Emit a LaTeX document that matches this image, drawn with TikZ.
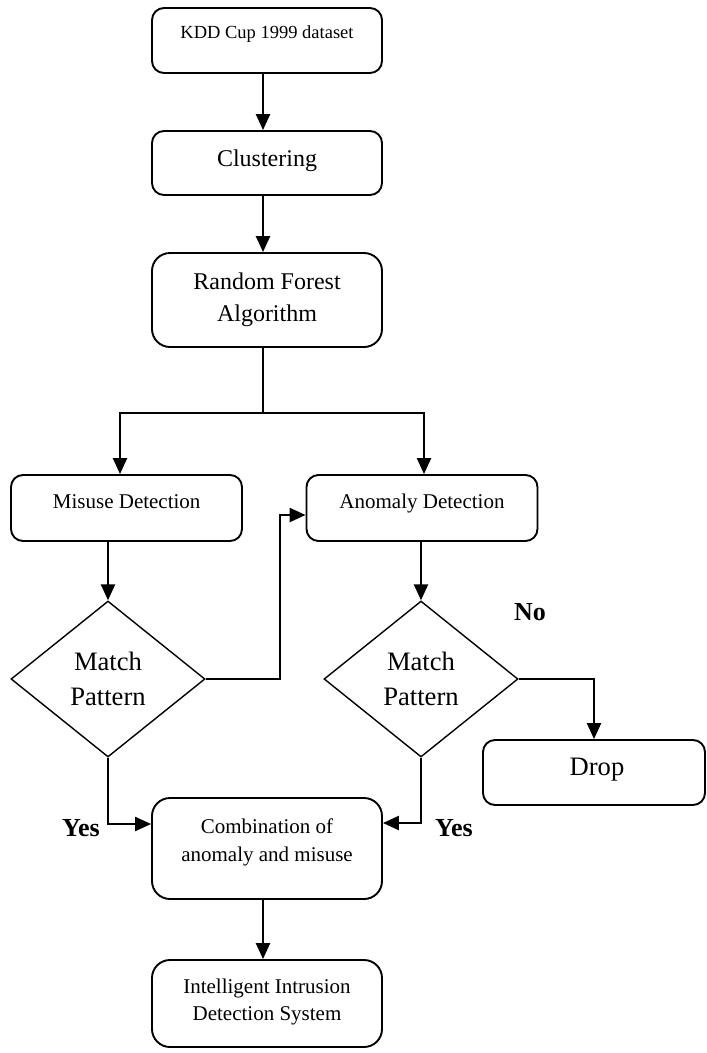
\documentclass[tikz,border=0pt]{standalone}
\usepackage{fontspec}
\setmainfont{Liberation Serif}
\usetikzlibrary{shapes.geometric,arrows.meta}
\begin{document}
\begin{tikzpicture}[x=1pt,y=-1pt,
  box/.style={draw, line width=1.9pt, inner sep=0pt, rounded corners=12pt},
  bigbox/.style={box, rounded corners=18pt},
  dia/.style={draw, diamond, line width=1.4pt, inner sep=0pt, minimum width=194pt, minimum height=156pt},
  lab/.style={inner sep=0pt, anchor=base},
  mlab/.style={inner sep=0pt, align=center},
  con/.style={line width=2pt},
  arr/.style={line width=2.4pt, -{Triangle[length=16pt,width=14pt]}},
  ysbold/.style={lab, font=\bfseries\fontsize{26}{30}\selectfont},
]
\path[use as bounding box] (0,0) rectangle (707,1053);

% boxes
\node[box, minimum width=230pt, minimum height=65pt] (kdd) at (267,40.5) {};
\node[box, minimum width=230pt, minimum height=64pt] (clus) at (267,163) {};
\node[bigbox, minimum width=230pt, minimum height=94pt] (rf) at (267,300) {};
\node[box, minimum width=231pt, minimum height=66pt] (mis) at (126.5,508) {};
\node[box, minimum width=231pt, minimum height=66pt] (ano) at (422,508) {};
\node[dia] (dm1) at (108,679) {};
\node[dia] (dm2) at (421,679) {};
\node[box, minimum width=222pt, minimum height=65pt] (drop) at (594,772.5) {};
\node[bigbox, minimum width=230pt, minimum height=101pt] (comb) at (267,848.5) {};
\node[bigbox, minimum width=230pt, minimum height=87pt] (iids) at (267,1003.5) {};

% texts
\node[lab, font=\fontsize{18.5}{22}\selectfont] (tkdd) at (267,38.3) {KDD Cup 1999 dataset};
\node[lab, font=\fontsize{24}{32}\selectfont] (tclus) at (267,166.5) {Clustering};
\node[mlab, font=\fontsize{24}{31.7}\selectfont] (trf) at (267,299.5) {Random Forest\\Algorithm};
\node[lab, font=\fontsize{21}{26}\selectfont] (tmis) at (126.7,508) {Misuse Detection};
\node[lab, font=\fontsize{21}{26}\selectfont] (tano) at (422,508) {Anomaly Detection};
\node[mlab, font=\fontsize{26.6}{35}\selectfont] (tm1) at (108,678.4) {Match\\Pattern};
\node[mlab, font=\fontsize{26.6}{35}\selectfont] (tm2) at (421,678.4) {Match\\Pattern};
\node[lab, font=\fontsize{26.6}{32}\selectfont] (tdrop) at (597,775) {Drop};
\node[ysbold] (no) at (530,620) {No};
\node[ysbold] (yes1) at (81,836.7) {Yes};
\node[ysbold] (yes2) at (454,836.7) {Yes};
\node[mlab, font=\fontsize{21}{27.4}\selectfont] (tcomb) at (267,842.2) {Combination of\\anomaly and misuse};
\node[mlab, font=\fontsize{21}{27.4}\selectfont] (tiids) at (267,1002.2) {Intelligent Intrusion\\Detection System};

% connectors
\draw[arr] ([xshift=-4pt]kdd.south) -- ([xshift=-4pt]clus.north);
\draw[arr] ([xshift=-4pt]clus.south) -- ([xshift=-4pt]rf.north);
\coordinate (br) at (263.3,413);
\draw[con] ([xshift=-3.7pt]rf.south) -- (br);
\draw[arr] (br) -| ([xshift=-6.5pt]mis.north);
\draw[arr] (br) -| ([xshift=2pt]ano.north);
\draw[arr] (mis.south -| dm1.north) -- (dm1.north);
\draw[arr] (ano.south -| dm2.north) -- (dm2.north);
\draw[arr] (dm1.east) -- ++(74.5,0) |- ([yshift=-7pt]ano.west);
\draw[arr] (dm2.east) -| (drop.north);
\draw[arr] (dm1.south) |- ([yshift=24.5pt]comb.west);
\draw[arr] (dm2.south) |- ([yshift=25.5pt]comb.east);
\draw[arr] ([xshift=-4pt]comb.south) -- ([xshift=-4pt]iids.north);
\end{tikzpicture}
\end{document}
